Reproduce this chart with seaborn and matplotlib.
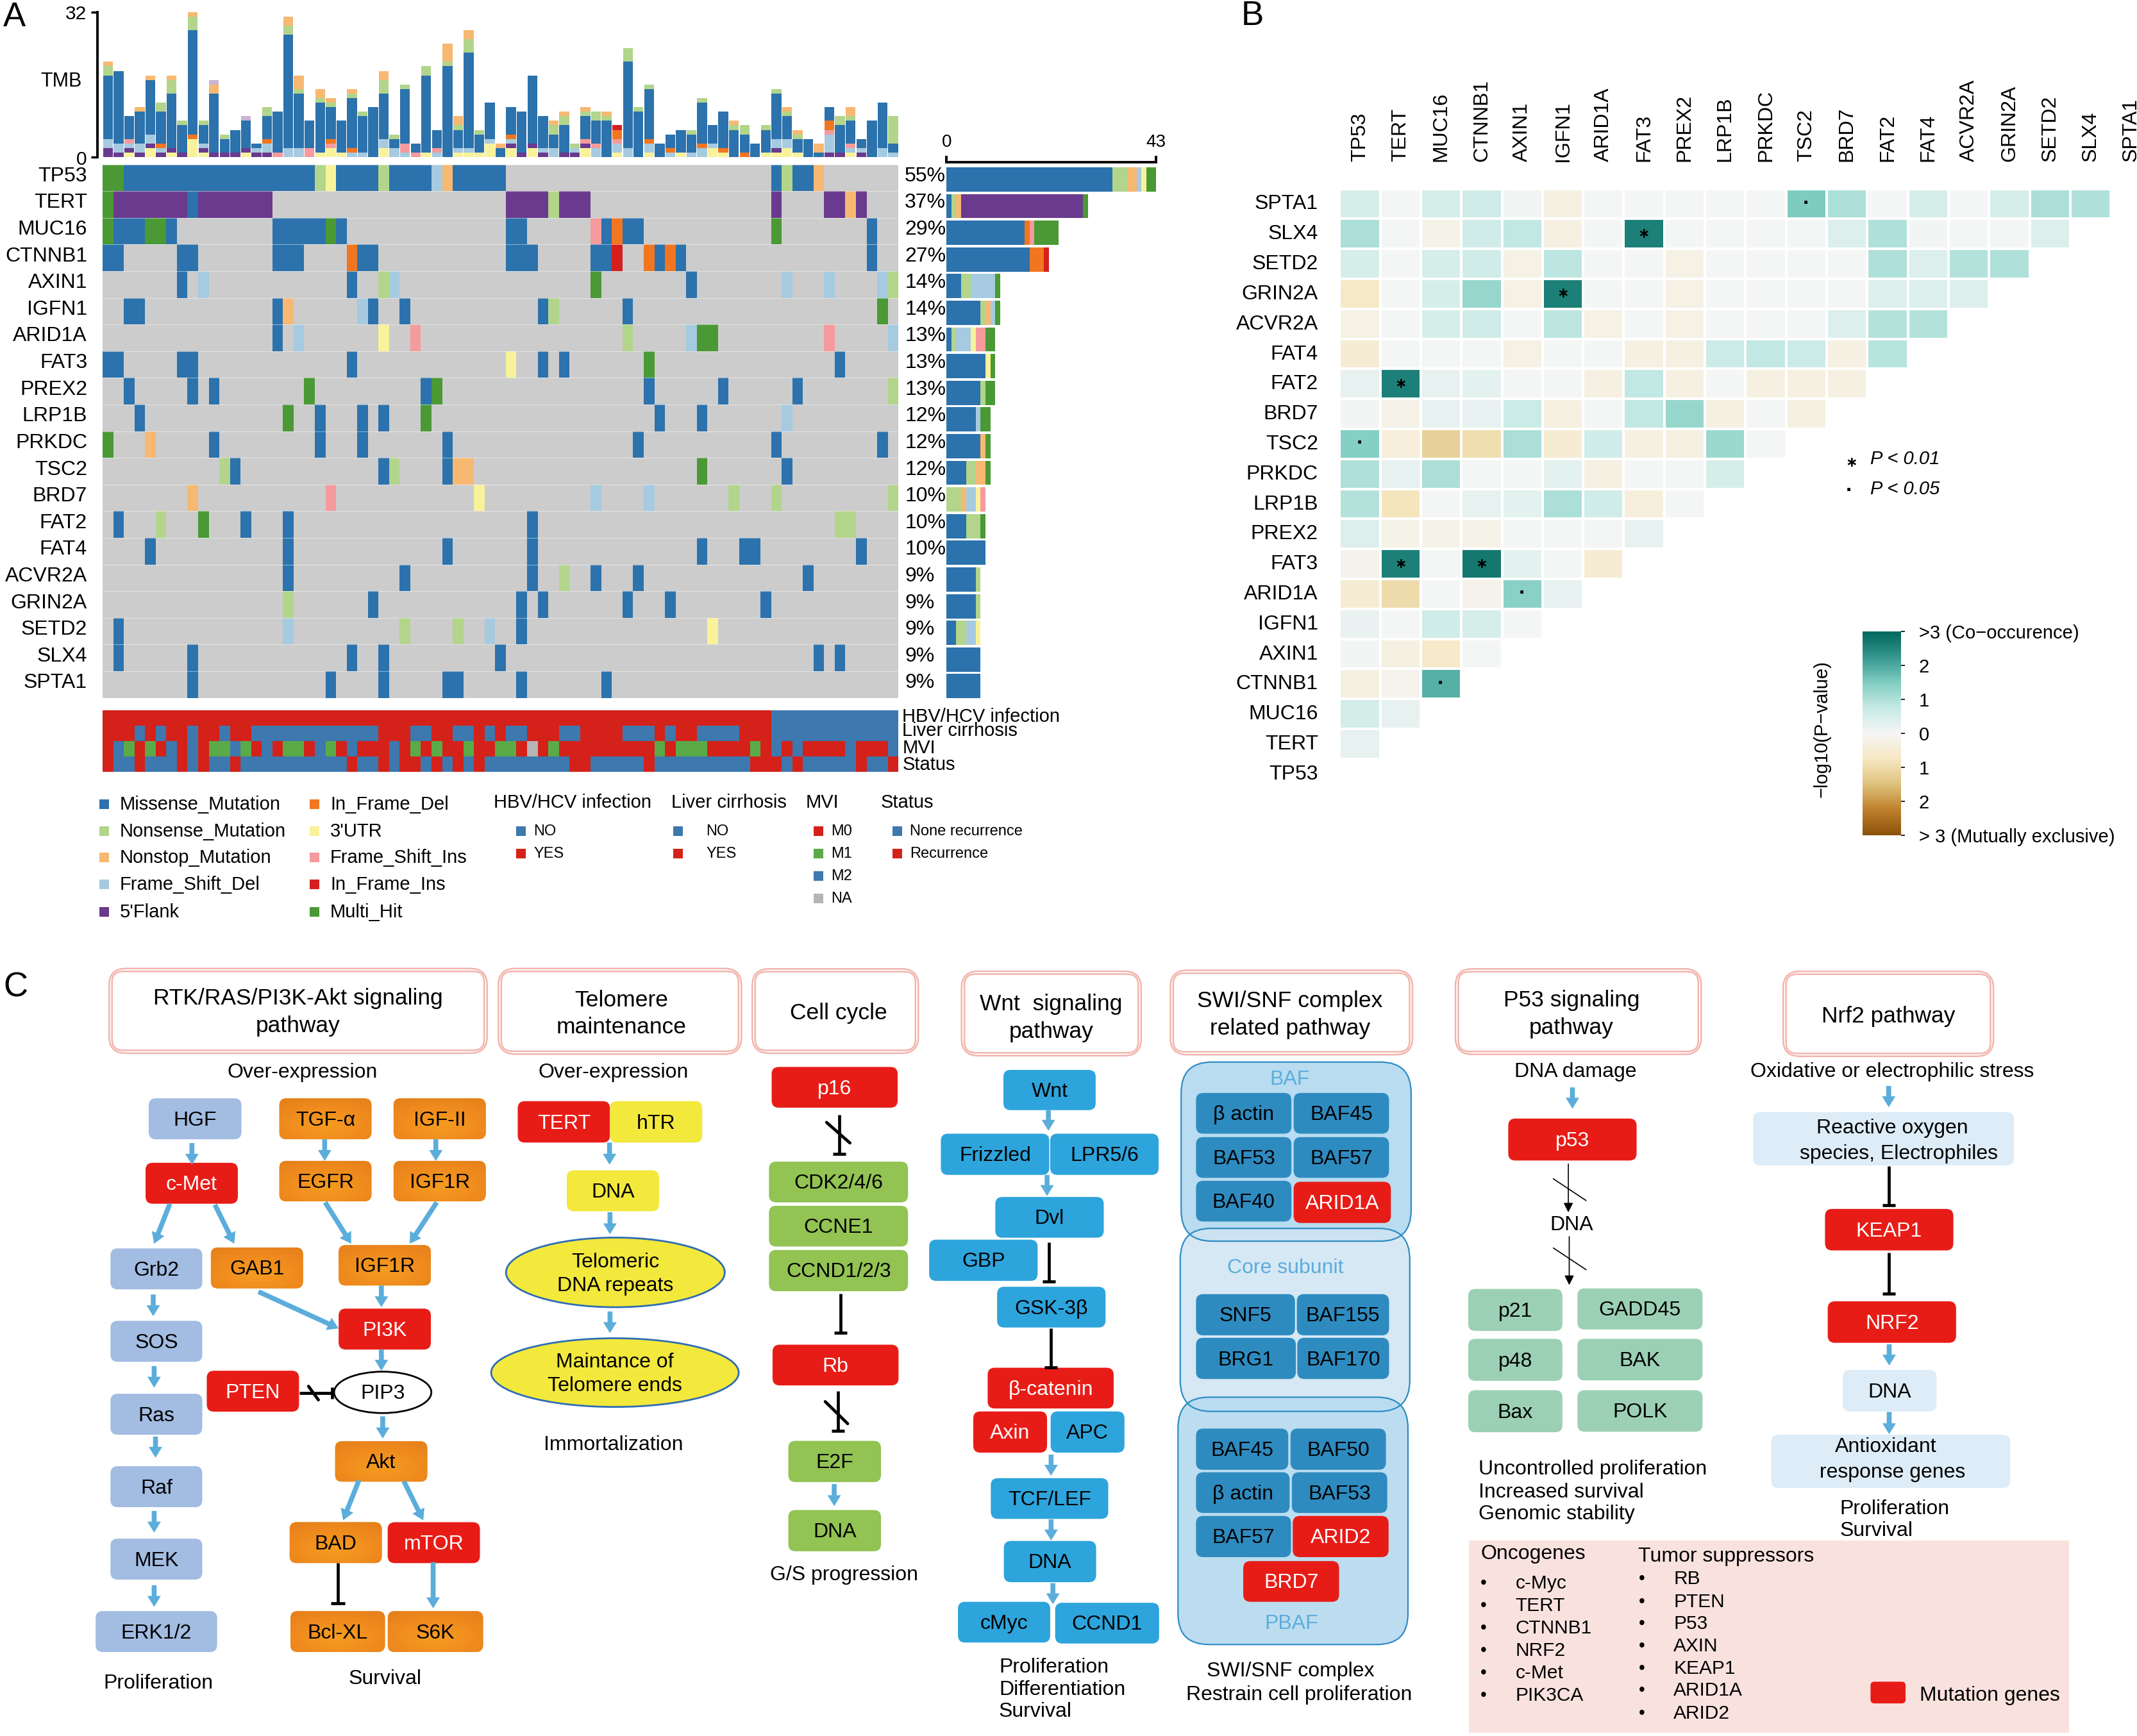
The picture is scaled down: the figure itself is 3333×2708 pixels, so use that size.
import numpy as np
import pandas as pd
import matplotlib
matplotlib.use("Agg")
import matplotlib.pyplot as plt
import seaborn as sns
from matplotlib.colors import ListedColormap, LinearSegmentedColormap
from matplotlib.patches import FancyBboxPatch, FancyArrowPatch, Ellipse, Rectangle

W, H = 3333, 2708
FONT_LIST = ["Liberation Sans", "DejaVu Sans"]

# ---- panel A data ----
genes = ["TP53", "TERT", "MUC16", "CTNNB1", "AXIN1", "IGFN1", "ARID1A", "FAT3", "PREX2", "LRP1B",
         "PRKDC", "TSC2", "BRD7", "FAT2", "FAT4", "ACVR2A", "GRIN2A", "SETD2", "SLX4", "SPTA1"]
percent = ["55%", "37%", "29%", "27%", "14%", "14%", "13%", "13%", "13%", "12%",
           "12%", "12%", "10%", "10%", "10%", "9%", "9%", "9%", "9%", "9%"]

# run length coded per sample: M missense, N nonsense, O nonstop, D fs del, F 5'flank,
# I inframe del, U 3'UTR, S fs ins, R inframe ins, H multi hit, L other, . none
onco_runs = [
    "H2 M18 N1 U1 M4 N1 M4 D1 O1 M5 .25 M1 N1 M2 O1",
    "H1 F7 M1 F7 .22 F4 N1 F3 .17 F1 .4 F2 O1 F1",
    "H1 M3 H2 M1 .9 M5 H1 M1 .15 M2 .6 S1 M1 I1 M2 .12 H1 .8 M1",
    "M2 .5 M2 .7 M3 .4 I1 M2 .12 M3 .5 M2 R1 .2 I1 M1 I1 M1 .17 M1",
    ".7 M1 .1 D1 .13 M1 .2 N1 D1 .18 H1 .8 M1 .8 D1 .3 D1 .4 D1 N1",
    ".2 M2 .12 M1 O1 .6 D1 M1 .2 M1 .12 M1 N1 .6 M1 .23 H1",
    ".16 M1 .1 D1 .7 U1 .2 S1 .19 N1 .5 D1 H2 .10 S1 .5 D1",
    "M2 .5 M2 .14 M1 .14 U1 .2 M1 .1 M1 .7 H1 .17 M1",
    ".2 M1 .5 M1 .1 M1 .8 H1 .10 M1 H1 .19 M1 .6 M1 .6 M1 .8 N1",
    ".3 M1 .13 H1 .2 M1 .3 M1 .1 M1 .3 H1 .21 M1 .3 M1 .7 D1",
    "H1 .3 O1 .5 M1 .9 M1 .3 M1 .7 M1 .17 M1 .12 M1 .9 M1",
    ".11 N1 M1 .13 M1 N1 .4 M1 O2 .21 H1 .7 M1",
    ".8 O1 .12 S1 .13 U1 .10 D1 .4 D1 .7 N1 .3 N1 .10 N1",
    ".1 M1 .3 N1 .3 H1 .3 M1 .3 M1 .22 M1 .28 N2",
    ".4 M1 .12 M1 .14 M1 .7 M1 .15 M1 .3 M2 .9 M1",
    ".17 M1 .10 M1 .11 M1 .2 N1 .2 M1 .3 M1 .15 M1",
    ".17 N1 .7 M1 .13 M1 .1 M1 .7 M1 .3 M1 .8 M1",
    ".1 M1 .15 D1 .10 N1 .4 N1 .2 D1 .2 M1 .17 U1",
    ".1 M1 .6 M1 .14 M1 .2 M1 .10 M1 .29 M1 .1 M1",
    ".8 M1 .12 M1 .4 M1 .5 M2 .5 M1 .7 M1",
]

# mutation counts per gene, right hand bars
gene_counts = [
    "M34 N3 O2 D1 U1 H2", "M1 N1 O1 F25 H1", "M16 I1 S1 H5", "M17 I3 R1", "M3 N2 D5 H1",
    "M7 N1 O1 D1 H1", "M1 N1 D3 U1 S2 H2", "M8 U1 H1", "M7 N1 H2", "M6 D1 H2",
    "M7 O1 H1", "M4 N2 O2 H1", "N3 O1 D2 U1 S1", "M4 N3 H1", "M8",
    "M6 N1", "M6 N1", "M2 N2 D2 U1", "M7", "M7",
]

# TMB per sample, read bar by bar
tmb_stacks = [
    "F2 D2 M14 N2 O1", "F1 D2 M16", "U1 F1 D1 S1 M5", "F1 D2 M7 O1", "U2 F1 D2 M12 O1",
    "F1 D1 I1 M7 N2", "U1 F1 M12 N3 O1", "F1 M6 N1", "U4 I1 M23 N3 O1", "U1 F1 D1 M4 N1",
    "F1 M13 O2 L1", "F1 M3 N1", "F1 M5", "U1 F1 M6 L1", "F1 D1 M1",
    "F1 D2 I1 M5 N2", "S1 M9", "D2 M25 N2 O2", "D2 M12 N1 O3", "S2 M6",
    "U1 M11 N1 O2", "U2 S1 I1 M7 N1 O1", "U1 M7", "D1 I1 M11 N1 O1", "D1 M8 N1",
    "M11", "U2 D2 M10 N3 O2", "D2 M2 N1", "D1 S2 M12 N1", "S1 M2",
    "U1 M17 N2", "D1 S1 M4", "M20 N1 O4", "U1 D1 M4 N1 O2", "U1 D1 M21 N3 O2",
    "U1 M4 N1", "U3 D1 M8", "M2 O1", "U2 F1 D1 I1 M6", "F1 M9",
    "U2 F1 M15", "F1 D1 M7", "D2 M3 N2 O1", "F1 M6 N2 O1", "F1 D1 N1",
    "U2 F1 S1 M5 N1 O1", "D2 S1 M5 N2", "M8 N1 O1", "U1 D2 S1 I2 R1", "D2 M19 N3",
    "M10 N1", "U1 D2 I1 M11 N1", "M3", "D1 I1 M3", "U1 M5",
    "D1 M4 N1", "D2 I1 M9 N1", "U2 D1 M4", "U1 I1 M8", "M6 N1 O1",
    "I1 M4 N2", "M3", "U1 M5 N1", "U1 F1 D2 M10 N1", "U2 D2 M5 N1 O1",
    "U1 M3 N1 O1", "M4", "M1 O2", "F1 D4 S1 I2 M3", "F1 M6 N2",
    "U1 D1 S1 M5 N1 O2", "F1 D1 M2", "M8", "D2 M10", "D1 M2 N6",
]
stack_order = ["U", "F", "D", "S", "I", "R", "M", "N", "O", "L"]
bar_order = ["M", "N", "O", "D", "F", "I", "U", "S", "R", "H"]

annot_rows = ["HBV/HCV infection", "Liver cirrhosis", "MVI", "Status"]
annot_runs = [
    "R63 B12",
    "R3 B1 R1 B1 R2 B1 R2 B1 R2 B12 R3 B2 R2 B2 R1 B1 R1 B2 R3 B2 R4 B3 R1 B1 R2 B4 R3 B12",
    "R1 B1 G1 R1 G1 R1 B1 R1 B1 R1 G2 B1 G1 R1 B1 R1 G2 R1 B1 G1 R1 B1 R3 B1 R1 G1 R1 G1 R2 G1 R2 G2 R1 A1 R1 G1 R9 G1 R1 G3 R4 G1 R1 B1 R1 B1 R4 B1 R3 B1",
    "R1 B2 R1 B3 R1 B1 R1 B2 R1 B10 R1 B2 R1 B1 R2 B1 R1 B1 R1 B1 R1 B8 R2 B5 R1 B9 R3 B1 R1 B5 R1 B2 R1",
]

mut_labels = {"M": "Missense_Mutation", "N": "Nonsense_Mutation", "O": "Nonstop_Mutation",
              "D": "Frame_Shift_Del", "F": "5'Flank", "I": "In_Frame_Del", "U": "3'UTR",
              "S": "Frame_Shift_Ins", "R": "In_Frame_Ins", "H": "Multi_Hit"}
mut_colors = {"M": "#2C72AC", "N": "#B2D58B", "O": "#F7B871", "D": "#A6CAE0", "F": "#6A3A8E",
              "I": "#F27620", "U": "#F8F29B", "S": "#F59A9D", "R": "#D51F1F", "H": "#4A9934",
              "L": "#CAB2D6", ".": "#CCCCCC"}
annot_colors = {"R": "#D4211A", "B": "#3D78AE", "G": "#5AAB48", "A": "#B5B5B5"}

# ---- panel B data ----
heat_rows = ["SPTA1", "SLX4", "SETD2", "GRIN2A", "ACVR2A", "FAT4", "FAT2", "BRD7", "TSC2", "PRKDC",
             "LRP1B", "PREX2", "FAT3", "ARID1A", "IGFN1", "AXIN1", "CTNNB1", "MUC16", "TERT", "TP53"]
heat_cols = genes
heat_values = [
    [.5, .02, .5, .6, .03, -.3, 0, 0, 0, 0, 0, 1.5, 1.05, .02, .5, 0, .5, 1.05, 1.0],
    [1.05, .02, -.2, .6, .8, -.3, 0, 2.6, 0, 0, 0, 0, .4, 1.0, .03, 0, .02, .4],
    [.5, .02, .5, .6, -.25, .85, 0, 0, -.25, 0, 0, 0, .02, 1.0, .4, .95, 1.0],
    [-.7, .02, .5, 1.25, -.25, 2.6, 0, 0, -.25, 0, 0, 0, .02, .4, .4, .4],
    [-.25, .02, .5, .6, 0, .85, -.25, 0, -.25, 0, 0, 0, .4, .95, .95],
    [-.5, .02, .02, .02, -.25, .02, 0, -.3, -.3, .7, .8, .7, -.3, .9],
    [.25, 2.6, .25, .3, .02, .02, -.3, .8, -.3, .02, -.3, -.3, -.3],
    [.03, -.2, .25, .25, .7, -.3, .02, .8, 1.25, -.3, .02, -.3],
    [1.45, -.4, -1.2, -.95, 1.05, -.5, .6, -.3, -.3, 1.2, .02],
    [1.0, .25, 1.05, .02, .02, .3, -.3, .02, .02, .5],
    [.95, -.8, .02, .25, .3, 1.05, .6, -.4, .02],
    [.4, -.2, -.2, -.2, .02, .02, .02, .25],
    [-.15, 2.6, 0, 2.7, .3, .02, -.5],
    [-.5, -1.0, .02, -.15, 1.4, .25],
    [.2, .02, .6, .5, .02],
    [.03, -.3, -.65, .02],
    [-.3, -.12, 1.9],
    [.55, .25],
    [.25],
    [],
]
brbg_nine = ["#8C510A", "#BF812D", "#DFC27D", "#F6E8C3", "#F5F5F5", "#C7EAE5", "#80CDC1", "#35978F", "#01665E"]


def decode(text, n=None, pad="."):
    out = []
    for tok in text.split():
        out += [tok[0]] * int(tok[1:])
    if n is not None:
        out = (out + [pad] * n)[:n]
    return out


def counts(text):
    return {tok[0]: int(tok[1:]) for tok in text.split()}


sns.set_theme(style="white", rc={"text.color": "black", "axes.labelcolor": "black",
                                 "xtick.color": "black", "ytick.color": "black"})
plt.rcParams["font.family"] = FONT_LIST

fig = plt.figure(figsize=((W + 0.5) / 100, (H + 0.5) / 100), dpi=100, facecolor="white")


def px_axes(x0, y0, x1, y1):
    return fig.add_axes([x0 / W, 1 - y1 / H, (x1 - x0) / W, (y1 - y0) / H])


N_SAMPLES = 75
ONCO_X0, ONCO_X1 = 160, 1401
ONCO_Y0, ONCO_Y1 = 257, 1089

# TMB stacked bars
tmb_df = pd.DataFrame([counts(s) for s in tmb_stacks], columns=stack_order).fillna(0)
ax_tmb = px_axes(ONCO_X0, 19, ONCO_X1, 245.5)
bottom = np.zeros(N_SAMPLES)
for key in stack_order:
    ax_tmb.bar(tmb_df.index, tmb_df[key], bottom=bottom, width=0.93, color=mut_colors[key], linewidth=0)
    bottom += tmb_df[key].values
ax_tmb.set_xlim(-0.5, N_SAMPLES - 0.5)
ax_tmb.set_ylim(0, 32)
ax_tmb.set_xticks([])
ax_tmb.set_yticks([0, 32])
ax_tmb.tick_params(axis="y", left=True, length=7, width=2.5, labelsize=21.5, pad=5)
sns.despine(ax=ax_tmb, bottom=True)
ax_tmb.spines["left"].set_position(("outward", 5.8))
ax_tmb.spines["left"].set_linewidth(2.8)
ax_tmb.spines["left"].set_color("black")
ax_tmb.patch.set_alpha(0)

# oncoplot
code_keys = [".", "M", "N", "O", "D", "F", "I", "U", "S", "R", "H"]
code_of = {k: i for i, k in enumerate(code_keys)}
onco_matrix = pd.DataFrame([[code_of[c] for c in decode(r, N_SAMPLES)] for r in onco_runs], index=genes)
ax_onco = px_axes(ONCO_X0, ONCO_Y0, ONCO_X1, ONCO_Y1)
sns.heatmap(onco_matrix, ax=ax_onco, cmap=ListedColormap([mut_colors[k] for k in code_keys]),
            vmin=-0.5, vmax=len(code_keys) - 0.5, cbar=False, xticklabels=False, yticklabels=False)
ax_onco.hlines(np.arange(0, 21), 0, N_SAMPLES, color="white", lw=0.8, alpha=0.45)

# right hand bars
bar_df = pd.DataFrame([counts(s) for s in gene_counts], index=genes, columns=bar_order).fillna(0)
ax_bar = px_axes(1476, 259.5, 1803, 1091.5)
left = np.zeros(len(genes))
for key in bar_order:
    ax_bar.barh(np.arange(len(genes)) + 0.5, bar_df[key], left=left, height=0.91,
                color=mut_colors[key], linewidth=0)
    left += bar_df[key].values
ax_bar.set_xlim(0, 43)
ax_bar.set_ylim(20, 0)
ax_bar.set_yticks([])
ax_bar.set_xticks([0, 43])
ax_bar.xaxis.tick_top()
ax_bar.tick_params(axis="x", top=True, length=7, width=2.8, labelsize=20, pad=6)
sns.despine(ax=ax_bar, top=False, bottom=True, left=True, right=True)
ax_bar.spines["top"].set_position(("outward", 4.5))
ax_bar.spines["top"].set_linewidth(2.8)
ax_bar.spines["top"].set_color("black")
ax_bar.patch.set_alpha(0)

# clinical strip
annot_keys = ["R", "B", "G", "A"]
annot_matrix = pd.DataFrame([[annot_keys.index(c) for c in decode(r, N_SAMPLES, "B")] for r in annot_runs],
                            index=annot_rows)
ax_annot = px_axes(ONCO_X0, 1108.5, ONCO_X1, 1204)
sns.heatmap(annot_matrix, ax=ax_annot, cmap=ListedColormap([annot_colors[k] for k in annot_keys]),
            vmin=-0.5, vmax=3.5, cbar=False, xticklabels=False, yticklabels=False)

# panel B
STAR, DOT = "\u2217", "\u00b7"
heat_matrix = pd.DataFrame([r + [np.nan] * (len(heat_cols) - len(r)) for r in heat_values],
                           index=heat_rows, columns=heat_cols)
heat_marks = heat_matrix.apply(lambda col: col.map(
    lambda v: STAR if abs(v) >= 2 else (DOT if abs(v) >= 1.3 else "")))
ax_heat = px_axes(2089, 295, 2089 + 20 * 63.3, 295 + 20 * 46.8)
ax_cbar = px_axes(2905, 985, 2965, 1303)
sns.heatmap(heat_matrix, ax=ax_heat, cmap=LinearSegmentedColormap.from_list("brbg9", brbg_nine),
            vmin=-3, vmax=3, linewidths=1.6, linecolor="white",
            annot=heat_marks, fmt="", annot_kws={"color": "black", "fontsize": 24, "fontweight": "bold"},
            cbar_ax=ax_cbar, cbar_kws={"ticks": [-3, -2, -1, 0, 1, 2, 3]})
for mark in ax_heat.texts:
    if mark.get_text() == STAR:
        mark.set_fontsize(16)
ax_heat.xaxis.tick_top()
ax_heat.tick_params(axis="x", length=0, pad=31, labelsize=23, labelrotation=90)
ax_heat.tick_params(axis="y", length=0, pad=24, labelsize=23, labelrotation=0)
ax_cbar.set_yticklabels(["> 3 (Mutually exclusive)", "2", "1", "0", "1", "2", ">3 (Co\u2212occurence)"])
ax_cbar.tick_params(axis="y", right=True, length=4, width=1.2, labelsize=21, pad=15.5)
for spine in ax_cbar.spines.values():
    spine.set_visible(False)

# overlay in pixel coordinates for everything that is not a data axis
ov = fig.add_axes([0, 0, 1, 1], facecolor="none", zorder=10)
ov.set_xlim(0, W)
ov.set_ylim(H, 0)
ov.axis("off")


def label(x, y, text, size=23, ha="center", va="center", **kw):
    ov.text(x, y, text, fontsize=size, ha=ha, va=va, zorder=6, **kw)


for i, (gene, pct) in enumerate(zip(genes, percent)):
    cy = ONCO_Y0 + (i + 0.5) * (ONCO_Y1 - ONCO_Y0) / 20 - 3
    label(136, cy, gene, ha="right")
    label(1411, cy, pct, ha="left")
label(128, 127, "TMB", size=22, ha="right")
for name, y in zip(annot_rows, [1118, 1140, 1167, 1193]):
    label(1407, y, name, size=21, ha="left")

# panel letters
label(5, 27, "A", size=38, ha="left")
label(1935, 25, "B", size=38, ha="left")
label(5, 1540, "C", size=38, ha="left")

# legends of panel A
leg_y = [1255, 1297, 1338, 1380, 1423]
for j, keys in enumerate([["M", "N", "O", "D", "F"], ["I", "U", "S", "R", "H"]]):
    for key, y in zip(keys, leg_y):
        sx = [155, 483][j]
        ov.add_patch(Rectangle((sx, y - 7.5), 15, 15, color=mut_colors[key], lw=0))
        label([187, 515][j], y, mut_labels[key], size=21, ha="left")
clin_groups = [
    ("HBV/HCV infection", 770, 805, 832, [("NO", "B"), ("YES", "R")]),
    ("Liver cirrhosis", 1047, 1050, 1101, [("NO", "B"), ("YES", "R")]),
    ("MVI", 1256, 1269, 1296, [("M0", "R"), ("M1", "G"), ("M2", "B"), ("NA", "A")]),
    ("Status", 1373, 1392, 1419, [("None recurrence", "B"), ("Recurrence", "R")]),
]
for head, hx, sx, tx, items in clin_groups:
    label(hx, 1252, head, size=21, ha="left")
    for (name, key), y in zip(items, [1297, 1332, 1367, 1402]):
        ov.add_patch(Rectangle((sx, y - 7.5), 15, 15, color=annot_colors[key], lw=0))
        label(tx, y, name, size=17, ha="left")

# side texts of panel B
label(2887, 722, STAR, size=16, fontweight="bold")
label(2917, 716, "P < 0.01", size=21, ha="left", style="italic")
label(2884, 766, DOT, size=24, fontweight="bold")
label(2917, 763, "P < 0.05", size=21, ha="left", style="italic")
label(2841, 1137, "\u2212log10(P\u2212value)", size=21, rotation=90)

# ---- panel C, a diagram; coordinates below are layout in crop space of each column group ----
BLUE_ARROW = "#5BADDB"
C_RED, C_ORANGE, C_PERI = "#E81C17", "#F08C1E", "#A2BCE2"
C_YELLOW, C_GREEN, C_SKY, C_DEEP = "#F3E83C", "#92C353", "#2DA4DC", "#2E8BC0"
C_TEAL, C_PALE = "#9CD0B4", "#DDECF7"
REG_L = (100, 1500, 1.425, 1.363)
REG_M = (1150, 1500, 1.425, 1.3067)
REG_R = (2220, 1500, 1.409, 1.298)
orange_glow = LinearSegmentedColormap.from_list("glow", ["#F59C20", "#F08C1E", "#E57F1C"])
gy, gx = np.mgrid[-1:1:40j, -1:1:80j]
glow = np.sqrt(gx ** 2 + (gy - 0.3) ** 2) / 1.6


def to_px(reg, x, y):
    return reg[0] + x / reg[2], reg[1] + y / reg[3]


def clabel(reg, x, y, text, **kw):
    px, py = to_px(reg, x, y)
    label(px, py + 2, text, **kw)


def node(reg, x0, y0, x1, y1, text, color, tc="black", size=23, r=11, z=3, gradient=False, **kw):
    ax0, ay0 = to_px(reg, x0, y0)
    ax1, ay1 = to_px(reg, x1, y1)
    patch = FancyBboxPatch((ax0, ay0), ax1 - ax0, ay1 - ay0, boxstyle=f"round,pad=0,rounding_size={r}",
                           fc=color, ec="none", zorder=z, **kw)
    ov.add_patch(patch)
    if gradient:
        im = ov.imshow(glow, extent=(ax0, ax1, ay1, ay0), cmap=orange_glow, aspect="auto", zorder=z + 0.1)
        im.set_clip_path(patch)
    if text:
        label((ax0 + ax1) / 2, (ay0 + ay1) / 2 + 2, text, size=size, color=tc)


def header(reg, x0, y0, x1, y1, tx, ty, text):
    ax0, ay0 = to_px(reg, x0, y0)
    ax1, ay1 = to_px(reg, x1, y1)
    for inset in (0, 4.5):
        ov.add_patch(FancyBboxPatch((ax0 + inset, ay0 + inset), ax1 - ax0 - 2 * inset, ay1 - ay0 - 2 * inset,
                                    boxstyle=f"round,pad=0,rounding_size={26 - inset * 2}",
                                    fc="white", ec="#F2B4AC", lw=1.8, zorder=2))
    clabel(reg, tx, ty, text, size=25.5, linespacing=1.38)


def arrow(reg, x0, y0, x1, y1):
    ov.add_patch(FancyArrowPatch(to_px(reg, x0, y0), to_px(reg, x1, y1), mutation_scale=14.4,
                                 arrowstyle="simple,head_length=0.85,head_width=1.05,tail_width=0.38",
                                 color=BLUE_ARROW, lw=0, shrinkA=0, shrinkB=0, zorder=4))


def blunt(reg, x0, y0, x1, y1, cap=16):
    a = np.array(to_px(reg, x0, y0))
    b = np.array(to_px(reg, x1, y1))
    d = (b - a) / np.linalg.norm(b - a)
    n = np.array([-d[1], d[0]]) * cap
    ov.plot([a[0], b[0]], [a[1], b[1]], color="black", lw=3.4, solid_capstyle="butt", zorder=4)
    ov.plot([b[0] - n[0], b[0] + n[0]], [b[1] - n[1], b[1] + n[1]], color="black", lw=3.4,
            solid_capstyle="butt", zorder=4)


def slash(reg, x0, y0, x1, y1, lw=3.4):
    a, b = to_px(reg, x0, y0), to_px(reg, x1, y1)
    ov.plot([a[0], b[0]], [a[1], b[1]], color="black", lw=lw, zorder=4)


def oval(reg, cx, cy, w, h, text, fc, ec):
    x, y = to_px(reg, cx, cy)
    ov.add_patch(Ellipse((x, y), w / reg[2], h / reg[3], fc=fc, ec=ec, lw=2, zorder=3))
    label(x, y + 2, text, linespacing=1.32)


# left group
header(REG_L, 100, 15, 940, 195, 520, 105, "RTK/RAS/PI3K-Akt signaling\npathway")
header(REG_L, 965, 15, 1505, 197, 1238, 108, "Telomere\nmaintenance")
for x, y, t in [(530, 232, "Over-expression"), (1220, 233, "Over-expression"), (1220, 1025, "Immortalization"),
                (210, 1532, "Proliferation"), (713, 1522, "Survival")]:
    clabel(REG_L, x, y, t)
for x0, y0, x1, y1, t in [(188, 291, 394, 378, "HGF"), (103, 610, 307, 697, "Grb2"), (103, 764, 307, 851, "SOS"),
                          (103, 919, 307, 1006, "Ras"), (103, 1073, 307, 1160, "Raf"), (103, 1227, 307, 1314, "MEK"),
                          (70, 1381, 340, 1468, "ERK1/2")]:
    node(REG_L, x0, y0, x1, y1, t, C_PERI)
for x0, y0, x1, y1, t in [(181, 428, 386, 515, "c-Met"), (317, 870, 522, 957, "PTEN"), (610, 738, 815, 825, "PI3K"),
                          (719, 1192, 924, 1279, "mTOR"), (1008, 297, 1213, 385, "TERT")]:
    node(REG_L, x0, y0, x1, y1, t, C_RED, tc="white")
for x0, y0, x1, y1, t in [(478, 291, 683, 378, "TGF-\u03b1"), (732, 291, 937, 378, "IGF-II"), (478, 424, 683, 510, "EGFR"),
                          (732, 424, 937, 510, "IGF1R"), (326, 608, 531, 695, "GAB1"), (610, 603, 815, 689, "IGF1R"),
                          (602, 1020, 807, 1106, "Akt"), (501, 1192, 706, 1279, "BAD"), (503, 1381, 713, 1468, "Bcl-XL"),
                          (719, 1381, 931, 1468, "S6K")]:
    node(REG_L, x0, y0, x1, y1, t, C_ORANGE, gradient=True)
node(REG_L, 1213, 297, 1418, 385, "hTR", C_YELLOW)
node(REG_L, 1117, 444, 1322, 531, "DNA", C_YELLOW)
oval(REG_L, 1225, 661, 486, 148, "Telomeric\nDNA repeats", C_YELLOW, "#2E6DB4")
oval(REG_L, 1224, 874, 550, 146, "Maintance of\nTelomere ends", C_YELLOW, "#2E6DB4")
oval(REG_L, 708, 916, 216, 88, "PIP3", "white", "black")
for seg in [(284, 386, 284, 432), (235, 515, 200, 600), (335, 517, 378, 600), (579, 378, 579, 424), (826, 378, 826, 424),
            (580, 512, 638, 600), (828, 512, 768, 600), (705, 689, 705, 735), (432, 702, 610, 780), (705, 825, 705, 870),
            (198, 708, 198, 754), (200, 860, 200, 906), (203, 1010, 203, 1055), (200, 1168, 200, 1214),
            (200, 1326, 200, 1372), (708, 967, 708, 1014), (655, 1103, 620, 1188), (755, 1105, 798, 1188),
            (820, 1277, 820, 1375), (1212, 385, 1212, 432), (1213, 533, 1213, 580), (1213, 744, 1213, 790)]:
    arrow(REG_L, *seg)
blunt(REG_L, 609, 1279, 609, 1365, cap=11)
blunt(REG_L, 523, 917, 595, 917, cap=9)
slash(REG_L, 543, 903, 565, 932)

# middle group
header(REG_M, 33, 15, 402, 187, 225, 102, "Cell cycle")
header(REG_M, 498, 20, 897, 192, 697, 112, "Wnt  signaling\npathway")
header(REG_M, 962, 18, 1500, 190, 1228, 105, "SWI/SNF complex\nrelated pathway")
node(REG_M, 986, 205, 1497, 570, "", "#B9DCF0", r=48, z=2.1)
node(REG_M, 984, 544, 1494, 917, "", "#CFE4F3", r=48, z=2.2, alpha=0.85)
node(REG_M, 979, 888, 1490, 1392, "", "#B9DCF0", r=48, z=2.3, alpha=0.95)
for x0, y0, x1, y1 in [(986, 205, 1497, 570), (984, 544, 1494, 917), (979, 888, 1490, 1392)]:
    ax0, ay0 = to_px(REG_M, x0, y0)
    ax1, ay1 = to_px(REG_M, x1, y1)
    ov.add_patch(FancyBboxPatch((ax0, ay0), ax1 - ax0, ay1 - ay0, boxstyle="round,pad=0,rounding_size=48",
                                fc="none", ec="#2E8CC4", lw=1.6, zorder=2.5))
for x, y, t in [(1227, 238, "BAF"), (1218, 621, "Core subunit"), (1231, 1346, "PBAF")]:
    clabel(REG_M, x, y, t, color=BLUE_ARROW)
for x0, y0, x1, y1, t in [(76, 215, 356, 298, "p16"), (78, 781, 358, 864, "Rb"), (556, 828, 836, 911, "\u03b2-catenin"),
                          (524, 917, 688, 1001, "Axin"), (1236, 449, 1452, 533, "ARID1A"),
                          (1234, 1130, 1447, 1214, "ARID2"), (1124, 1222, 1337, 1305, "BRD7")]:
    node(REG_M, x0, y0, x1, y1, t, C_RED, tc="white")
for x0, y0, x1, y1, t in [(70, 408, 379, 491, "CDK2/4/6"), (70, 498, 379, 581, "CCNE1"), (70, 588, 379, 672, "CCND1/2/3"),
                          (113, 977, 319, 1061, "E2F"), (113, 1118, 319, 1202, "DNA")]:
    node(REG_M, x0, y0, x1, y1, t, C_GREEN)
for x0, y0, x1, y1, t in [(591, 221, 796, 303, "Wnt"), (452, 351, 693, 435, "Frizzled"), (695, 351, 936, 435, "LPR5/6"),
                          (573, 480, 814, 563, "Dvl"), (426, 567, 667, 651, "GBP"), (577, 663, 818, 746, "GSK-3\u03b2"),
                          (696, 917, 860, 1001, "APC"), (563, 1053, 824, 1136, "TCF/LEF"), (592, 1181, 797, 1265, "DNA"),
                          (490, 1305, 695, 1388, "cMyc"), (706, 1307, 937, 1390, "CCND1")]:
    node(REG_M, x0, y0, x1, y1, t, C_SKY)
for x0, y0, x1, y1, t in [(1019, 268, 1231, 351, "\u03b2 actin"), (1236, 268, 1448, 351, "BAF45"), (1019, 358, 1231, 441, "BAF53"),
                          (1236, 358, 1448, 441, "BAF57"), (1019, 447, 1231, 530, "BAF40"), (1019, 678, 1239, 762, "SNF5"),
                          (1243, 678, 1448, 762, "BAF155"), (1019, 767, 1241, 851, "BRG1"), (1244, 767, 1448, 851, "BAF170"),
                          (1019, 952, 1224, 1036, "BAF45"), (1229, 952, 1441, 1036, "BAF50"), (1019, 1041, 1227, 1124, "\u03b2 actin"),
                          (1232, 1041, 1444, 1124, "BAF53"), (1019, 1130, 1230, 1214, "BAF57")]:
    node(REG_M, x0, y0, x1, y1, t, C_DEEP)
for x, y, t in [(237, 1247, "G/S progression"), (1229, 1443, "SWI/SNF complex"), (1248, 1491, "Restrain cell proliferation")]:
    clabel(REG_M, x, y, t)
for y, t in [(1436, "Proliferation"), (1481, "Differentiation"), (1526, "Survival")]:
    clabel(REG_M, 581, y, t, ha="left")
for seg in [(691, 303, 691, 345), (688, 435, 688, 478), (215, 1065, 215, 1110), (697, 1005, 697, 1048),
            (697, 1137, 697, 1180), (701, 1267, 701, 1310)]:
    arrow(REG_M, *seg)
blunt(REG_M, 226, 312, 226, 392, cap=10)
slash(REG_M, 198, 328, 250, 370)
blunt(REG_M, 229, 677, 229, 757, cap=10)
blunt(REG_M, 223, 875, 223, 957, cap=10)
slash(REG_M, 195, 897, 245, 942)
blunt(REG_M, 692, 572, 692, 652, cap=10)
blunt(REG_M, 697, 748, 697, 827, cap=10)

# right group
header(REG_R, 70, 15, 610, 188, 325, 103, "P53 signaling\npathway")
header(REG_R, 790, 20, 1252, 192, 1021, 108, "Nrf2 pathway")
for x0, y0, x1, y1, t in [(186, 318, 468, 403, "p53"), (882, 501, 1164, 585, "KEAP1"), (888, 688, 1170, 772, "NRF2")]:
    node(REG_R, x0, y0, x1, y1, t, C_RED, tc="white")
for x0, y0, x1, y1, t in [(724, 305, 1297, 413, ""), (921, 827, 1127, 911, "DNA"), (764, 958, 1289, 1066, "")]:
    node(REG_R, x0, y0, x1, y1, t, C_PALE)
for x0, y0, x1, y1, t in [(98, 663, 305, 748, "p21"), (338, 662, 613, 745, "GADD45"), (98, 764, 305, 849, "p48"),
                          (338, 764, 613, 848, "BAK"), (98, 868, 305, 953, "Bax"), (338, 868, 613, 952, "POLK")]:
    node(REG_R, x0, y0, x1, y1, t, C_TEAL)
for x, y, t in [(334, 220, "DNA damage"), (1029, 220, "Oxidative or electrophilic stress"), (325, 531, "DNA"),
                (1030, 334, "Reactive oxygen"), (1044, 387, "species, Electrophiles"),
                (1016, 979, "Antioxidant"), (1030, 1032, "response genes")]:
    clabel(REG_R, x, y, t)
for x0, y0, x1, y1 in [(318, 410, 318, 508), (320, 557, 320, 655)]:
    ov.add_patch(FancyArrowPatch(to_px(REG_R, x0, y0), to_px(REG_R, x1, y1), mutation_scale=22, lw=1.2,
                                 arrowstyle="-|>", color="black", shrinkA=0, shrinkB=0, zorder=4))
slash(REG_R, 285, 440, 357, 484, lw=1.2)
slash(REG_R, 285, 580, 357, 624, lw=1.2)
for seg in [(327, 255, 327, 298), (1022, 252, 1022, 295), (1023, 775, 1023, 818), (1023, 912, 1023, 957)]:
    arrow(REG_R, *seg)
blunt(REG_R, 1023, 414, 1023, 494, cap=10)
blunt(REG_R, 1023, 590, 1023, 672, cap=10)
for y, t in [(1025, "Uncontrolled proliferation"), (1071, "Increased survival"), (1116, "Genomic stability")]:
    clabel(REG_R, 121, y, t, ha="left")
for y, t in [(1105, "Proliferation"), (1150, "Survival")]:
    clabel(REG_R, 914, y, t, ha="left")

px0, py0 = to_px(REG_R, 100, 1172)
px1, py1 = to_px(REG_R, 1418, 1562)
ov.add_patch(Rectangle((px0, py0), px1 - px0, py1 - py0, fc="#F9E2DE", ec="none", zorder=1))
clabel(REG_R, 125, 1196, "Oncogenes", ha="left")
clabel(REG_R, 472, 1201, "Tumor suppressors", ha="left")
oncogenes = ["c-Myc", "TERT", "CTNNB1", "NRF2", "c-Met", "PIK3CA"]
suppressors = ["RB", "PTEN", "P53", "AXIN", "KEAP1", "ARID1A", "ARID2"]
for t, y in zip(oncogenes, [1256, 1301, 1347, 1392, 1437, 1483]):
    clabel(REG_R, 132, y, "\u2022", size=20)
    clabel(REG_R, 202, y, t, size=21.5, ha="left")
for t, y in zip(suppressors, [1247, 1293, 1338, 1383, 1428, 1473, 1519]):
    clabel(REG_R, 479, y, "\u2022", size=20)
    clabel(REG_R, 549, y, t, size=21.5, ha="left")
node(REG_R, 982, 1458, 1059, 1502, "", C_RED, r=6)
clabel(REG_R, 1090, 1483, "Mutation genes", ha="left")

ov.set_xlim(0, W)
ov.set_ylim(H, 0)
fig.savefig("out.png", dpi=100, facecolor="white")
